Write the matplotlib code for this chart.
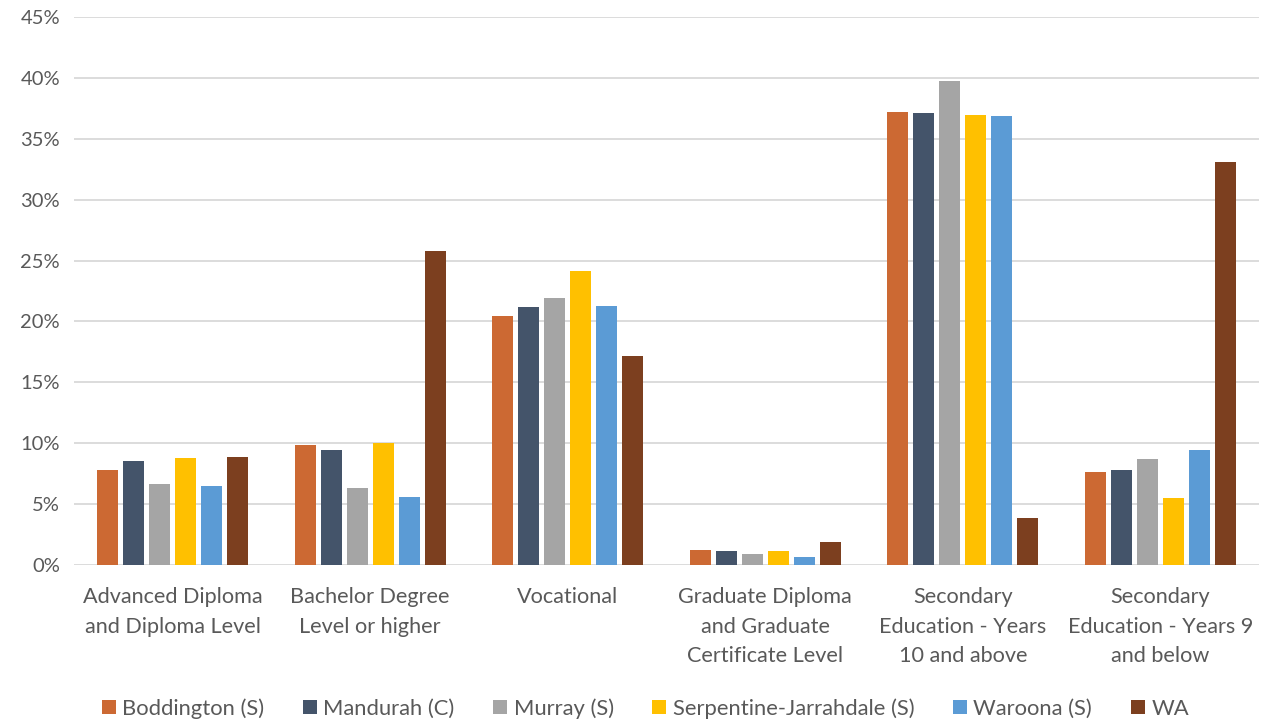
import numpy as np
import matplotlib
matplotlib.use("Agg")
import matplotlib.pyplot as plt
from matplotlib.ticker import FuncFormatter

# highest level of education attained, share of population (%)
categories = [
    "Advanced Diploma\nand Diploma Level",
    "Bachelor Degree\nLevel or higher",
    "Vocational",
    "Graduate Diploma\nand Graduate\nCertificate Level",
    "Secondary\nEducation - Years\n10 and above",
    "Secondary\nEducation - Years 9\nand below",
]

boddington = [7.83, 9.84, 20.41, 1.19, 37.2, 7.66]
mandurah = [8.57, 9.45, 21.2, 1.13, 37.13, 7.77]
murray = [6.68, 6.35, 21.9, 0.86, 39.75, 8.71]
serpentine = [8.79, 10.03, 24.18, 1.16, 36.99, 5.52]
waroona = [6.48, 5.6, 21.29, 0.66, 36.83, 9.4]
wa = [8.9, 25.8, 17.14, 1.88, 3.82, 33.1]

series_names = ["Boddington (S)", "Mandurah (C)", "Murray (S)",
                "Serpentine-Jarrahdale (S)", "Waroona (S)", "WA"]
colors = ["#CC6933", "#44546A", "#A5A5A5", "#FFC000", "#5B9BD5", "#7C3F1F"]

plt.rcParams['font.family'] = ['Lato', 'DejaVu Sans']
text_color = "#595959"

fig = plt.figure(figsize=(12.67, 7.22), dpi=100)
ax = fig.add_axes([0.0584, 0.2175, 0.9353, 0.759])

x = np.arange(len(categories))
stride = 0.1316
width = 0.106
all_series = [boddington, mandurah, murray, serpentine, waroona, wa]
for i, (vals, name, c) in enumerate(zip(all_series, series_names, colors)):
    offset = (i - 2.5) * stride
    ax.bar(x + offset, vals, width, color=c, label=name, zorder=3)

ax.set_xlim(-0.5, len(categories) - 0.5)
ax.set_ylim(0, 45)
ax.set_yticks(np.arange(0, 46, 5))
ax.yaxis.set_major_formatter(FuncFormatter(lambda v, p: f"{v:.0f}%"))
ax.set_xticks(x)
ax.set_xticklabels(categories, linespacing=1.6, fontsize=15.6)

ax.grid(axis='y', color='#D9D9D9', linewidth=1.3, zorder=0)
for s in ax.spines.values():
    s.set_visible(False)
ax.tick_params(axis='both', length=0, colors=text_color)
ax.tick_params(axis='y', labelsize=14.5, pad=10)
ax.tick_params(axis='x', pad=16)

ax.legend(loc='center', bbox_to_anchor=(0.482, -0.262), ncol=6,
          frameon=False, fontsize=15.8, labelcolor=text_color,
          handlelength=0.64, handleheight=0.64, handletextpad=0.3,
          columnspacing=1.75)

fig.savefig("out.png", dpi=100)
